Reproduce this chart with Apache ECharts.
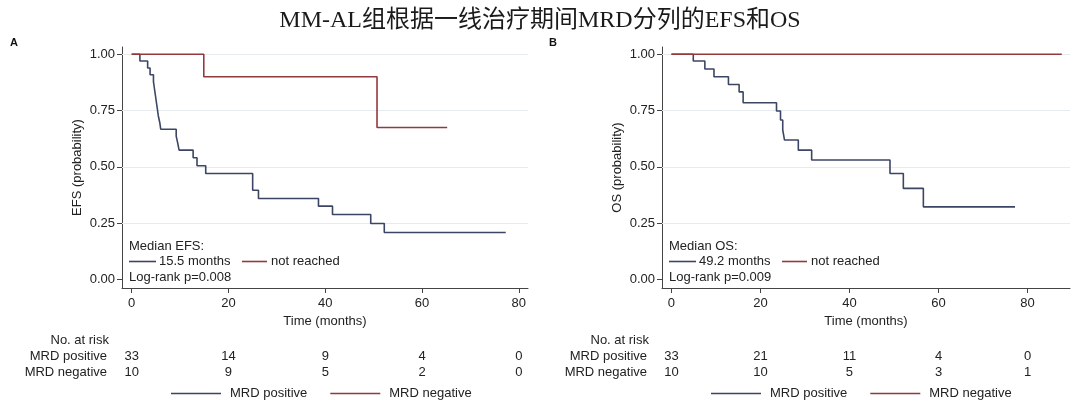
<!DOCTYPE html>
<html><head><meta charset="utf-8">
<script src="https://cdn.jsdelivr.net/npm/echarts@6/dist/echarts.min.js"></script>
<style>html,body{margin:0;padding:0;background:#fff}#c{width:1080px;height:402px}</style>
</head><body><div id="c"></div>
<script>
// ---------- data ----------
const chartTitle = 'MM-AL组根据一线治疗期间MRD分列的EFS和OS';
const xTicks = [0, 20, 40, 60, 80];
const yTicks = [0, 0.25, 0.5, 0.75, 1];
const gridTicks = [0.25, 0.5, 0.75, 1];

// Panel A: EFS
const efsPosTime = [0, 1.7, 3.3, 3.8, 4.5, 4.7, 4.9, 5.1, 5.3, 5.5, 5.8, 6.0, 9.2, 9.5, 9.8, 12.7, 13.5, 15.3, 25.0, 26.2, 38.6, 41.5, 49.4, 52.2, 77.3];
const efsPosSurv = [1, 0.970, 0.939, 0.909, 0.879, 0.848, 0.818, 0.788, 0.758, 0.727, 0.697, 0.667, 0.636, 0.606, 0.574, 0.540, 0.505, 0.470, 0.396, 0.359, 0.325, 0.288, 0.248, 0.208, 0.208];
const efsNegTime = [0, 14.9, 50.7, 65.2];
const efsNegSurv = [1, 0.9, 0.675, 0.675];

// Panel B: OS
const osPosTime = [0, 4.9, 7.5, 9.55, 12.8, 15.2, 16.1, 23.6, 24.5, 25.0, 25.4, 28.5, 31.5, 49.1, 52.1, 56.6, 77.2];
const osPosSurv = [1, 0.970, 0.935, 0.900, 0.866, 0.833, 0.785, 0.748, 0.708, 0.664, 0.619, 0.574, 0.530, 0.470, 0.404, 0.322, 0.322];
const osNegTime = [0, 87.7];
const osNegSurv = [1, 1];

// Number at risk
const riskTimes = [0, 20, 40, 60, 80];
const efsRiskPos = [33, 14, 9, 4, 0];
const efsRiskNeg = [10, 9, 5, 2, 0];
const osRiskPos = [33, 21, 11, 4, 0];
const osRiskNeg = [10, 10, 5, 3, 1];

const seriesNames = ['MRD positive', 'MRD negative'];
const efsMedianText = ['Median EFS:', '15.5 months', 'not reached', 'Log-rank p=0.008'];
const osMedianText = ['Median OS:', '49.2 months', 'not reached', 'Log-rank p=0.009'];

// ---------- styles ----------
const BLUE = '#3c4664';
const RED = '#93393c';
const FONT = "'Liberation Sans', Arial, sans-serif";
const TXT = '#222';
const AX = '#444';
const zip = (a, b) => a.map((v, i) => [v, b[i]]);

function makeX(gi, min, max) {
  return {
    gridIndex: gi, type: 'value', min: min, max: max,
    name: 'Time (months)', nameLocation: 'middle', nameGap: 26,
    nameTextStyle: { fontFamily: FONT, fontSize: 13, color: TXT },
    axisLine: { show: true, onZero: false, lineStyle: { color: AX, width: 1 } },
    axisTick: { show: true, length: 5, customValues: xTicks, lineStyle: { color: AX } },
    axisLabel: { customValues: xTicks, margin: 9, fontFamily: FONT, fontSize: 13, color: TXT },
    splitLine: { show: false }
  };
}
function makeY(gi, name) {
  return {
    gridIndex: gi, type: 'value', min: -0.0387, max: 1.0325,
    name: name, nameLocation: 'middle', nameGap: 38,
    nameTextStyle: { fontFamily: FONT, fontSize: 13, color: TXT },
    axisLine: { show: true, onZero: false, lineStyle: { color: AX, width: 1 } },
    axisTick: { show: true, length: 5, customValues: yTicks, lineStyle: { color: AX } },
    axisLabel: { customValues: yTicks, margin: 7, fontFamily: FONT, fontSize: 13, color: TXT,
      formatter: v => Number(v).toFixed(2) },
    splitLine: { show: false }
  };
}
function km(name, gi, data, color) {
  return {
    name: name, type: 'line', step: 'end', xAxisIndex: gi, yAxisIndex: gi,
    data: data, showSymbol: false, symbol: 'none', silent: true, z: 6,
    lineStyle: { color: color, width: 1.6 }, itemStyle: { color: color }
  };
}
function gridSeries(gi) {
  return {
    name: 'grid' + gi, type: 'line', xAxisIndex: gi, yAxisIndex: gi, data: [], z: 1, silent: true,
    markLine: { silent: true, z: 1, symbol: 'none', label: { show: false },
      lineStyle: { color: '#e6ebef', width: 1, type: 'solid' },
      data: gridTicks.map(v => ({ yAxis: v })) }
  };
}
function legendAt(left) {
  return { data: seriesNames, left: left, top: 387, padding: 0, icon: 'rect',
    itemWidth: 50, itemHeight: 1.6, itemGap: 23, selectedMode: false,
    textStyle: { fontFamily: FONT, fontSize: 13, color: TXT, padding: [0, 0, 0, 4] } };
}

const chart = echarts.init(document.getElementById('c'), null, { renderer: 'canvas' });
const option = {
  backgroundColor: '#fff',
  animation: false,
  title: { text: chartTitle, left: 'center', top: 4,
    textStyle: { fontFamily: "'Liberation Serif', 'Noto Sans CJK SC', serif", fontSize: 24, fontWeight: 'normal', color: '#1a1a1a' } },
  grid: [
    { left: 122, top: 47, width: 406, height: 241 },
    { left: 662, top: 47, width: 408, height: 241 }
  ],
  xAxis: [makeX(0, -2.0, 81.9), makeX(1, -2.13, 89.55)],
  yAxis: [makeY(0, 'EFS (probability)'), makeY(1, 'OS (probability)')],
  legend: [legendAt(171), legendAt(711)],
  series: [
    gridSeries(0), gridSeries(1),
    km(seriesNames[0], 0, zip(efsPosTime, efsPosSurv), BLUE),
    km(seriesNames[1], 0, zip(efsNegTime, efsNegSurv), RED),
    km(seriesNames[0], 1, zip(osPosTime, osPosSurv), BLUE),
    km(seriesNames[1], 1, zip(osNegTime, osNegSurv), RED)
  ]
};
chart.setOption(option);

// ---------- annotations & risk table ----------
const g = [];
function txt(x, y, s, align, opts) {
  g.push(Object.assign({ type: 'text', x: x, y: y, silent: true,
    style: { text: s, fill: TXT, font: '13px ' + FONT, textAlign: align || 'left', textVerticalAlign: 'middle' } }, opts || {}));
}
function seg(x1, x2, y, color) {
  g.push({ type: 'line', silent: true, shape: { x1: x1, y1: y, x2: x2, y2: y }, style: { stroke: color, lineWidth: 1.6 } });
}
g.push({ type: 'text', x: 14, y: 43, style: { text: 'A', fill: '#111', font: 'bold 11px ' + FONT, textAlign: 'center', textVerticalAlign: 'middle' } });
g.push({ type: 'text', x: 553, y: 43, style: { text: 'B', fill: '#111', font: 'bold 11px ' + FONT, textAlign: 'center', textVerticalAlign: 'middle' } });

function panelNotes(x0, texts) {
  txt(x0, 246, texts[0]);
  seg(x0, x0 + 27, 261.5, BLUE);
  txt(x0 + 30, 261.5, texts[1]);
  seg(x0 + 113, x0 + 138, 261.5, RED);
  txt(x0 + 142, 261.5, texts[2]);
  txt(x0, 277.5, texts[3]);
}
panelNotes(129, efsMedianText);
panelNotes(669, osMedianText);

function riskTable(gi, labelRight, pos, neg) {
  txt(labelRight + 2, 340, 'No. at risk', 'right');
  txt(labelRight, 356, 'MRD positive', 'right');
  txt(labelRight, 372, 'MRD negative', 'right');
  riskTimes.forEach((t, i) => {
    const px = chart.convertToPixel({ xAxisIndex: gi }, t);
    txt(px, 356, String(pos[i]), 'center');
    txt(px, 372, String(neg[i]), 'center');
  });
}
riskTable(0, 107, efsRiskPos, efsRiskNeg);
riskTable(1, 647, osRiskPos, osRiskNeg);

chart.setOption({ graphic: g });
</script></body></html>
